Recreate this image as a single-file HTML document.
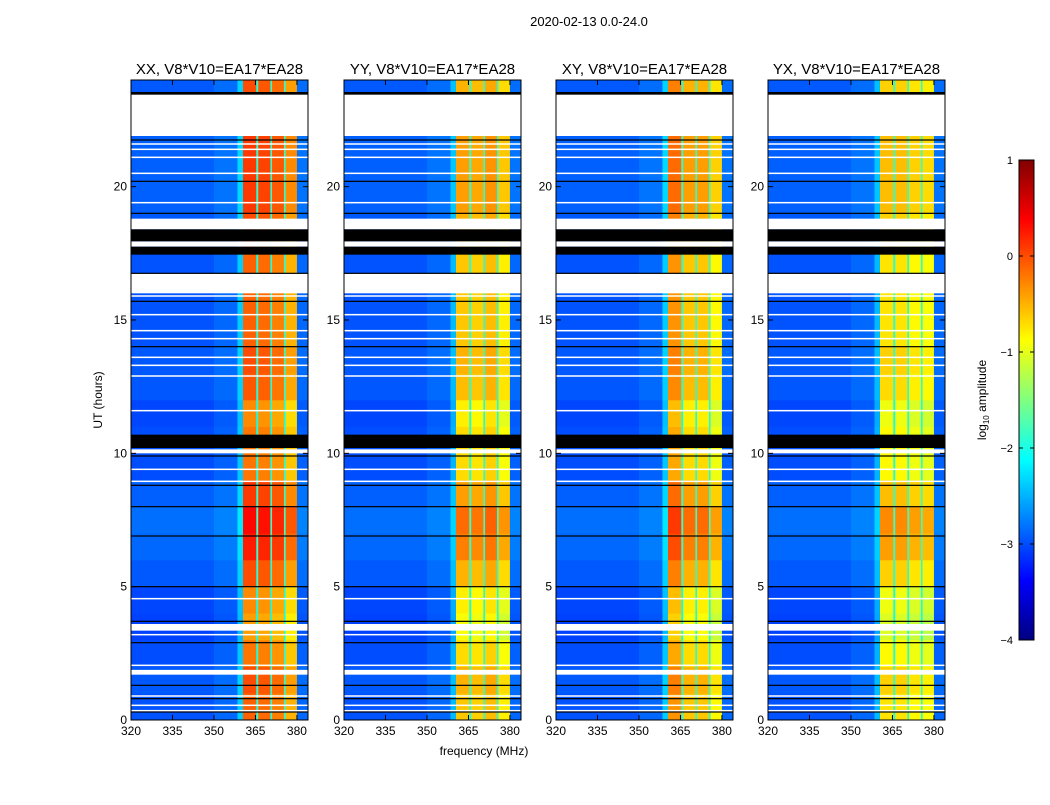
<!DOCTYPE html>
<html><head><meta charset="utf-8">
<style>
body{margin:0;background:#fff;font-family:"Liberation Sans",sans-serif;}
svg text{font-family:"Liberation Sans",sans-serif;}
</style></head>
<body>
<svg id="fig" width="1050" height="800" viewBox="0 0 1050 800" xmlns="http://www.w3.org/2000/svg">
<defs>
<linearGradient id="jet" x1="0" y1="1" x2="0" y2="0">
<stop offset="0" stop-color="#000080"/><stop offset="0.125" stop-color="#0000ff"/>
<stop offset="0.375" stop-color="#00ffff"/><stop offset="0.5" stop-color="#80ff80"/>
<stop offset="0.625" stop-color="#ffff00"/><stop offset="0.875" stop-color="#ff0000"/>
<stop offset="1" stop-color="#800000"/>
</linearGradient>
</defs>
<text x="589" y="26" font-size="13" text-anchor="middle">2020-02-13 0.0-24.0</text>
<text x="484" y="755" font-size="12" text-anchor="middle">frequency (MHz)</text>
<text x="102" y="400" font-size="12" text-anchor="middle" transform="rotate(-90 102 400)">UT (hours)</text>
<g id="panels"></g>
<g>
<rect x="1019" y="160" width="15" height="480" fill="url(#jet)" stroke="#000" stroke-width="1"/>
<g id="cbticks"></g>
<text x="986" y="400" font-size="12" text-anchor="middle" transform="rotate(-90 986 400)">log<tspan font-size="8" dy="3">10</tspan><tspan dy="-3"> amplitude</tspan></text>
</g>
</svg>
<script>
// ---- data ----
const panelTitles = ["XX, V8*V10=EA17*EA28","YY, V8*V10=EA17*EA28","XY, V8*V10=EA17*EA28","YX, V8*V10=EA17*EA28"];
const freqEdges = [320,350,358.5,360.5,365.3,366,370.4,371,375.3,375.9,380,384];
const highBand = [0,0,0,1,0,1,0,1,0,1,0];
const freqLevelsXX = [-3.0,-2.9,-2.4,-0.2,-2.0,-0.25,-2.0,-0.35,-2.0,-0.6,-2.9];
const freqLevelsYY = [-3.0,-2.9,-2.5,-0.7,-2.0,-0.75,-2.0,-0.65,-2.0,-0.9,-2.9];
const freqLevelsXY = [-3.0,-2.9,-2.4,-0.45,-2.0,-0.7,-2.0,-0.7,-2.0,-0.95,-2.9];
const freqLevelsYX = [-3.0,-2.9,-2.5,-0.85,-2.0,-0.85,-2.0,-0.95,-2.0,-1.0,-2.9];
const timeOffset = [0.1,0.2,0,-0.2,-0.1,0.2,0.45,0.55,0.3,0,0,-0.1,0.15,0.2,0.1,0.1,0.1,0.1,0.2,0.3,0.3,0.3,0,0.2];
const whiteBands = [[21.9,23.5],[18.4,18.8],[17.75,17.95],[16.0,16.75],[10.0,10.15],[1.7,1.88],[3.35,3.6]];
const blackBands = [[17.45,17.75],[17.95,18.4],[10.2,10.7],[23.45,23.55]];
const whiteLines = [0.35,0.55,0.9,2.05,3.2,4.55,8.95,9.4,11.6,12.9,13.3,13.6,14.3,14.6,15.2,15.9,19.4,20.5,21.1,21.4,21.6];
const blackLines = [0.3,0.8,1.3,2.9,3.7,5.0,6.9,8.0,8.8,9.9,14.0,15.7,16.75,19.0,20.2,21.75];
const yTicks = [0,5,10,15,20];
const xTicks = [320,335,350,365,380];
const cbTicks = [-4,-3,-2,-1,0,1];
// ---- scales ----
const panelX = [131,344,556,768], panelW = 177, plotTop = 80, plotBottom = 720;
const fMin = 320, fMax = 384, hMax = 24;
function xs(p,f){return panelX[p] + (f-fMin)/(fMax-fMin)*panelW;}
function ys(h){return plotBottom - h/hMax*(plotBottom-plotTop);}
function jet(v){
  let t=Math.max(0,Math.min(1,(v+4)/5));
  const c=x=>Math.round(255*Math.max(0,Math.min(1,1.5-Math.abs(4*t-x))));
  return `rgb(${c(3)},${c(2)},${c(1)})`;
}
const NS="http://www.w3.org/2000/svg";
function mk(tag,attrs,parent){const e=document.createElementNS(NS,tag);for(const k in attrs)e.setAttribute(k,attrs[k]);parent.appendChild(e);return e;}
const levels=[freqLevelsXX,freqLevelsYY,freqLevelsXY,freqLevelsYX];
const root=document.getElementById('panels');
for(let p=0;p<4;p++){
  const g=mk('g',{},root);
  
  
  for(let h=0;h<hMax;h++){
    for(let s=0;s<freqEdges.length-1;s++){
      const v=levels[p][s]+(highBand[s]?timeOffset[h]:timeOffset[h]*0.3);
      const x0=xs(p,freqEdges[s]),x1=xs(p,freqEdges[s+1]);
      const r=mk('rect',{x:x0,y:ys(h+1),width:x1-x0+0.3,height:ys(h)-ys(h+1)+0.3,fill:jet(v)},g);
      
      
    }
  }
  for(const b of whiteBands){
    const r=mk('rect',{x:panelX[p],y:ys(b[1]),width:panelW,height:ys(b[0])-ys(b[1]),fill:'#fff'},g);
    
    
  }
  for(const b of blackBands){
    const r=mk('rect',{x:panelX[p],y:ys(b[1]),width:panelW,height:ys(b[0])-ys(b[1]),fill:'#000'},g);
    
    
  }
  for(const h of whiteLines){
    const r=mk('rect',{x:panelX[p],y:ys(h)-0.75,width:panelW,height:1.5,fill:'#fff'},g);
    
    
  }
  for(const h of blackLines){
    const r=mk('rect',{x:panelX[p],y:ys(h)-0.6,width:panelW,height:1.2,fill:'#000'},g);
    
    
  }
  const fr=mk('rect',{x:panelX[p],y:plotTop,width:panelW,height:plotBottom-plotTop,fill:'none',stroke:'#000','stroke-width':1},g);
  
  
  const t=mk('text',{x:panelX[p]+panelW/2,y:74,'font-size':15,'text-anchor':'middle'},g);
  t.textContent=panelTitles[p];
  
  
  for(const h of yTicks){
    const y=ys(h);
    mk('line',{x1:panelX[p],x2:panelX[p]+5,y1:y,y2:y,stroke:'#000'},g);
    mk('line',{x1:panelX[p]+panelW-5,x2:panelX[p]+panelW,y1:y,y2:y,stroke:'#000'},g);
    const l=mk('text',{x:panelX[p]-4,y:y+4,'font-size':12,'text-anchor':'end'},g);
    l.textContent=h;
    
    
  }
  for(const f of xTicks){
    const x=xs(p,f);
    mk('line',{x1:x,x2:x,y1:plotBottom,y2:plotBottom-5,stroke:'#000'},g);
    mk('line',{x1:x,x2:x,y1:plotTop,y2:plotTop+5,stroke:'#000'},g);
    const l=mk('text',{x:x,y:plotBottom+15,'font-size':12,'text-anchor':'middle'},g);
    l.textContent=f;
    
    
  }
}
const cbg=document.getElementById('cbticks');
for(const v of cbTicks){
  const y=640-(v+4)/5*480;
  mk('line',{x1:1019,x2:1023,y1:y,y2:y,stroke:'#000'},cbg);
  mk('line',{x1:1030,x2:1034,y1:y,y2:y,stroke:'#000'},cbg);
  const l=mk('text',{x:1013,y:y+4,'font-size':11,'text-anchor':'end'},cbg);
  l.textContent=v<0?'\u2212'+Math.abs(v):String(v);
  
  
}
</script>
</body></html>
